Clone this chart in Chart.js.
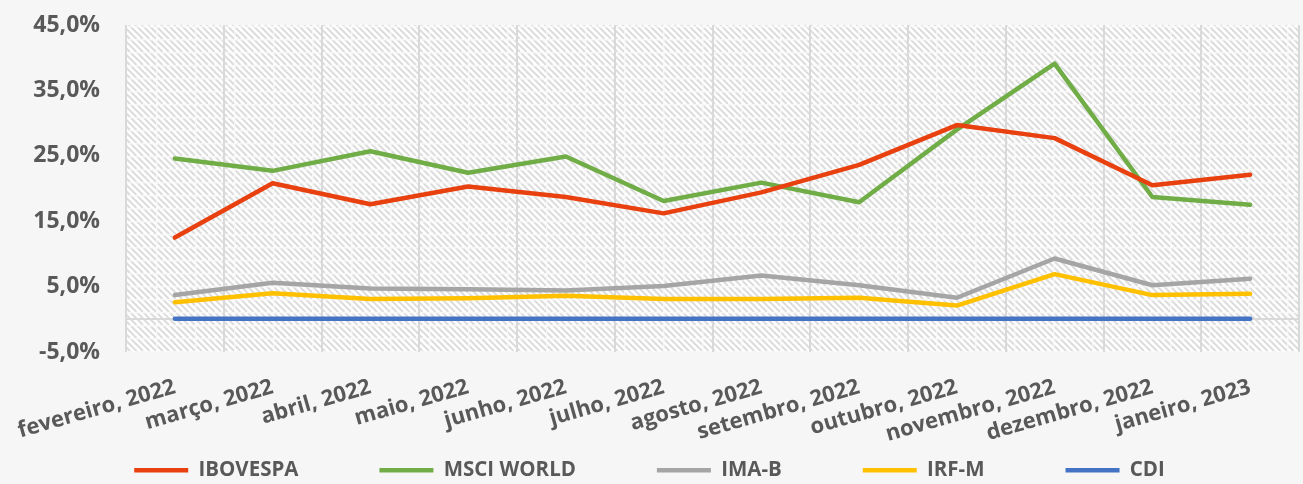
<!DOCTYPE html>
<html lang="pt-BR">
<head>
<meta charset="utf-8">
<script src="https://cdn.jsdelivr.net/npm/chart.js@4.4.0/dist/chart.umd.min.js"></script>
<style>
  html, body { margin: 0; padding: 0; background: #f6f6f6; }
  #wrap { width: 1303px; height: 484px; }
</style>
</head>
<body>
<div id="wrap"><canvas id="grafico" width="1303" height="484"></canvas></div>
<script>
// --- dados (%) ---
const meses = ['fevereiro, 2022', 'março, 2022', 'abril, 2022', 'maio, 2022', 'junho, 2022', 'julho, 2022',
  'agosto, 2022', 'setembro, 2022', 'outubro, 2022', 'novembro, 2022', 'dezembro, 2022', 'janeiro, 2023'];
const ibovespa = [12.5, 20.8, 17.6, 20.3, 18.7, 16.2, 19.4, 23.6, 29.7, 27.7, 20.5, 22.1];
const msciWorld = [24.6, 22.7, 25.7, 22.4, 24.9, 18.1, 20.9, 17.9, 29.0, 39.1, 18.7, 17.5];
const imaB = [3.7, 5.6, 4.7, 4.6, 4.4, 5.1, 6.7, 5.2, 3.3, 9.3, 5.2, 6.2];
const irfM = [2.6, 4.0, 3.1, 3.2, 3.6, 3.1, 3.1, 3.3, 2.1, 6.9, 3.7, 3.9];
const cdi = [0.1, 0.1, 0.1, 0.1, 0.1, 0.1, 0.1, 0.1, 0.1, 0.1, 0.1, 0.1];
const eixoY = { min: -5, max: 45, passo: 10 };

const CINZA_TEXTO = '#595959';
const CINZA_GRADE = '#d9d9d9';
const ESPACO_LEGENDA = 81;

Chart.defaults.font.family = "'Open Sans', 'Noto Sans', sans-serif";
Chart.defaults.font.weight = 'bold';
Chart.defaults.color = CINZA_TEXTO;

// textura hachurada da área do gráfico
function criarHachura() {
  const c = document.createElement('canvas');
  c.width = 39;
  c.height = 13;
  const g = c.getContext('2d');
  g.fillStyle = '#ffffff';
  g.fillRect(0, 0, 39, 13);
  g.strokeStyle = '#dcdcdc';
  g.lineWidth = 2;
  for (let x = -13; x <= 52; x += 6.5) {
    g.beginPath();
    g.moveTo(x, 0);
    g.lineTo(x + 13, 13);
    g.stroke();
  }
  g.fillStyle = 'rgba(248,248,248,0.85)';
  g.fillRect(0, 0, 39, 1.5);
  g.fillRect(0, 0, 1.5, 13);
  return c;
}
const hachura = criarHachura();

const fundoHachurado = {
  id: 'fundoHachurado',
  beforeDraw(chart) {
    const { ctx, chartArea: a } = chart;
    ctx.save();
    ctx.fillStyle = ctx.createPattern(hachura, 'repeat');
    ctx.fillRect(a.left, a.top, a.right - a.left, a.bottom - a.top);
    ctx.restore();
  }
};

// o espaçamento horizontal da legenda também empurra o texto para baixo; sobe a caixa
const ajusteLegenda = {
  id: 'ajusteLegenda',
  afterLayout(chart) {
    if (chart.legend) chart.legend.top = 460 - ESPACO_LEGENDA;
  }
};

function serie(rotulo, valores, cor) {
  return {
    label: rotulo,
    data: valores,
    borderColor: cor,
    backgroundColor: cor,
    borderWidth: 4.5,
    borderCapStyle: 'round',
    borderJoinStyle: 'round',
    tension: 0,
    pointRadius: 0,
    pointHoverRadius: 0
  };
}

new Chart(document.getElementById('grafico'), {
  type: 'line',
  data: {
    labels: meses,
    datasets: [
      serie('IBOVESPA', ibovespa, '#E8400E'),
      serie('MSCI WORLD', msciWorld, '#70AD47'),
      serie('IMA-B', imaB, '#A5A5A5'),
      serie('IRF-M', irfM, '#FFC000'),
      serie('CDI', cdi, '#4472C4')
    ]
  },
  options: {
    responsive: false,
    animation: false,
    layout: { padding: { top: 25, right: 4, left: 0, bottom: 0 } },
    scales: {
      x: {
        offset: true,
        grid: {
          offset: true,
          color: CINZA_GRADE,
          lineWidth: 2,
          drawTicks: true,
          tickLength: 22,
          tickColor: 'transparent'
        },
        border: { display: false },
        ticks: {
          autoSkip: false,
          minRotation: 16,
          maxRotation: 16,
          padding: 0,
          font: { size: 22, weight: 'bold' },
          color: CINZA_TEXTO
        },
        afterFit(s) { s.height = 92; }
      },
      y: {
        min: eixoY.min,
        max: eixoY.max,
        grid: {
          drawTicks: true,
          tickLength: 26,
          tickColor: 'transparent',
          lineWidth: 2,
          color: (c) => (c.tick && c.tick.value === 0 ? CINZA_GRADE : 'transparent')
        },
        border: { display: false },
        ticks: {
          stepSize: eixoY.passo,
          padding: 0,
          font: { size: 23, weight: 'bold' },
          color: CINZA_TEXTO,
          callback: (v) => (v === 0 ? '' : v.toFixed(1).replace('.', ',') + '%')
        },
        afterBuildTicks(s) {
          s.ticks.push({ value: 0 });
          s.ticks.sort((a, b) => a.value - b.value);
        },
        afterFit(s) { s.width = 126; }
      }
    },
    plugins: {
      legend: {
        position: 'bottom',
        maxHeight: 40,
        labels: {
          usePointStyle: true,
          pointStyle: 'line',
          pointStyleWidth: 54,
          padding: ESPACO_LEGENDA,
          font: { size: 20.5, weight: 'bold' },
          color: CINZA_TEXTO
        }
      },
      tooltip: { enabled: false }
    }
  },
  plugins: [fundoHachurado, ajusteLegenda]
});
</script>
</body>
</html>
